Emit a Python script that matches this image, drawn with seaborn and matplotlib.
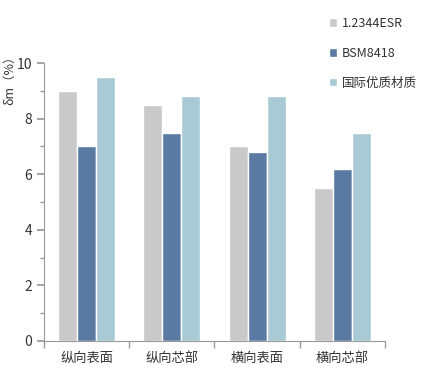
import matplotlib
matplotlib.use("Agg")
import matplotlib.pyplot as plt
import seaborn as sns
import pandas as pd
from matplotlib.patches import Patch
from matplotlib.ticker import MultipleLocator

categories = ["纵向表面", "纵向芯部", "横向表面", "横向芯部"]
series = ["1.2344ESR", "BSM8418", "国际优质材质"]
esr = [9.0, 8.5, 7.0, 5.5]
bsm = [7.0, 7.5, 6.8, 6.2]
intl = [9.5, 8.8, 8.8, 7.5]
colors = ["#C9C9C9", "#5A7AA3", "#A8CAD5"]

rows = []
for name, vals in zip(series, [esr, bsm, intl]):
    for c, v in zip(categories, vals):
        rows.append({"cat": c, "series": name, "value": v})
df = pd.DataFrame(rows)

sns.set_theme(style="white")
plt.rcParams["font.family"] = ["Noto Sans CJK SC", "DejaVu Sans"]

fig = plt.figure(figsize=(4.23, 3.75), dpi=100)
ax = fig.add_axes([0.104, 0.0907, 0.806, 0.741])
sns.barplot(data=df, x="cat", y="value", hue="series", palette=colors,
            width=0.67, ax=ax, legend=False, saturation=1)

ax.set_ylim(0, 10)
ax.set_xlim(-0.5, 3.5)
ax.yaxis.set_major_locator(MultipleLocator(2))
ax.yaxis.set_minor_locator(MultipleLocator(1))
ax.set_xticks(range(4))
ax.set_xticklabels(categories, fontsize=9.5, color="#333333")
ax.set_xticks([-0.5, 0.5, 1.5, 2.5, 3.5], minor=True)
ax.tick_params(axis="x", which="major", length=0, pad=8)
ax.tick_params(axis="x", which="minor", length=5, color="#999999", direction="out", bottom=True)
ax.tick_params(axis="y", which="major", length=5, color="#999999", direction="out", left=True, labelsize=10, labelcolor="#333333")
ax.tick_params(axis="y", which="minor", length=3, color="#999999", direction="out", left=True)
for s in ["top", "right"]:
    ax.spines[s].set_visible(False)
for s in ["left", "bottom"]:
    ax.spines[s].set_color("#999999")
    ax.spines[s].set_linewidth(0.8)
ax.set_xlabel("")
ax.set_ylabel("δm（%）", fontsize=9, color="#333333")
ax.yaxis.set_label_coords(-0.082, 0.95)

handles = [Patch(facecolor=c, label=n) for c, n in zip(colors, series)]
fig.legend(handles=handles, loc="upper left", bbox_to_anchor=(0.75, 0.985),
           frameon=False, fontsize=9, handlelength=0.65, handleheight=0.65,
           handletextpad=0.4, labelspacing=1.35, labelcolor="#333333")

fig.savefig("out.png", dpi=100)
